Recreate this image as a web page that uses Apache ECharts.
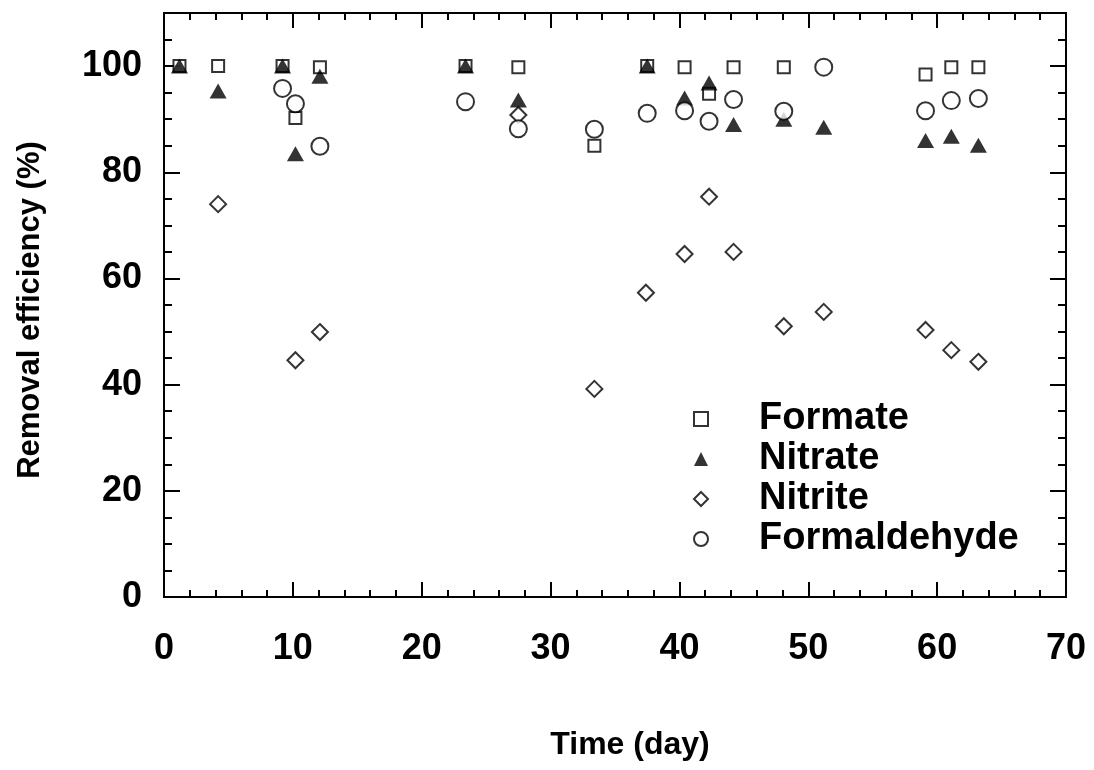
<!DOCTYPE html>
<html>
<head>
<meta charset="utf-8">
<script src="https://cdn.jsdelivr.net/npm/echarts@6/dist/echarts.min.js"></script>
<style>
html,body{margin:0;padding:0;background:#fff;}
#chart{width:1094px;height:770px;}
</style>
</head>
<body>
<div id="chart"></div>
<script>
// Data: [time (day), removal efficiency (%)]
const formate = [[1.2,100],[4.2,100],[9.2,100],[10.2,90.2],[12.1,99.8],[23.4,100],[27.5,99.8],[33.4,85],[37.5,100],[40.4,99.8],[42.3,94.8],[44.2,99.8],[48.1,99.8],[59.1,98.4],[61.1,99.8],[63.2,99.8]];
const nitrate = [[1.2,100],[4.2,95.3],[9.2,100],[10.2,83.5],[12.1,98.1],[23.4,100],[27.5,93.6],[37.5,100],[40.4,94],[42.3,96.8],[44.2,89],[48.1,90],[51.2,88.5],[59.1,86],[61.1,86.8],[63.2,85.1]];
const nitrite = [[4.2,74],[10.2,44.6],[12.1,49.9],[27.5,90.8],[33.4,39.2],[37.4,57.3],[40.4,64.6],[42.3,75.4],[44.2,65],[48.1,51],[51.2,53.7],[59.1,50.3],[61.1,46.5],[63.2,44.3]];
const formaldehyde = [[9.2,95.8],[10.2,92.9],[12.1,84.9],[23.4,93.3],[27.5,88.2],[33.4,88.1],[37.5,91.1],[40.4,91.6],[42.3,89.6],[44.2,93.7],[48.1,91.5],[51.2,99.8],[59.1,91.6],[61.1,93.5],[63.2,93.9]];
const seriesNames = ['Formate','Nitrate','Nitrite','Formaldehyde'];
const xTitle = 'Time (day)';
const yTitle = 'Removal efficiency (%)';

const FONT = '"Liberation Sans", Arial, sans-serif';
const lineStyle = {color:'#000', width:2};
const emptyStyle = {color:'#fff', borderColor:'#000', borderWidth:2};

function xAx(pos, interval, len, labels){
  return {
    type:'value', min:0, max:70, interval:interval, position:pos,
    axisLine:{show:true, onZero:false, lineStyle:lineStyle},
    axisTick:{show:true, inside:true, length:len, lineStyle:{color:'#000', width:2}},
    axisLabel: labels ? {show:true, margin:34, fontSize:36, fontWeight:'bold', fontFamily:FONT, color:'#000'} : {show:false},
    splitLine:{show:false},
    name: labels ? xTitle : '', nameLocation:'middle', nameGap:132,
    nameTextStyle:{fontSize:32, fontWeight:'bold', fontFamily:FONT, color:'#000', padding:[0,0,0,30]}
  };
}
function yAx(pos, interval, len, labels){
  return {
    type:'value', min:0, max:110, interval:interval, position:pos, offset:0,
    axisLine:{show:true, onZero:false, lineStyle:lineStyle},
    axisTick:{show:true, inside:true, length:len, lineStyle:{color:'#000', width:2}},
    axisLabel: labels ? {show:true, margin:22, fontSize:36, fontWeight:'bold', fontFamily:FONT, color:'#000',
      formatter: v => (v % 20 === 0 ? String(v) : '')} : {show:false},
    splitLine:{show:false},
    name: labels ? yTitle : '', nameLocation:'middle', nameGap:118, nameRotate:90,
    nameTextStyle:{fontSize:31, fontWeight:'bold', fontFamily:FONT, color:'#000', padding:[0,10,0,0]}
  };
}

const option = {
  animation:false,
  backgroundColor:'#fff',
  grid:{left:164, right:28, top:13, bottom:173, containLabel:false},
  xAxis:[xAx('bottom',10,15,true), xAx('bottom',2,7,false), xAx('top',10,15,false), xAx('top',2,7,false)],
  yAxis:[yAx('left',20,16,true), yAx('left',5,8,false), yAx('right',20,16,false), yAx('right',5,8,false)],
  legend:{
    orient:'vertical', left:688, top:395, itemWidth:14, itemHeight:14, itemGap:2,
    textStyle:{fontSize:38, fontWeight:'bold', fontFamily:FONT, color:'#000', padding:[0,0,0,46]},
    data:[
      {name:seriesNames[0], icon:'rect', itemStyle:{color:'#fff', borderColor:'#000', borderWidth:2}},
      {name:seriesNames[1], icon:'triangle', itemStyle:{color:'#000', borderWidth:0}},
      {name:seriesNames[2], icon:'diamond', itemStyle:{color:'#fff', borderColor:'#000', borderWidth:2}},
      {name:seriesNames[3], icon:'circle', itemStyle:{color:'#fff', borderColor:'#000', borderWidth:2}}
    ]
  },
  series:[
    {name:seriesNames[0], type:'scatter', data:formate, symbol:'rect', symbolSize:12, itemStyle:emptyStyle, z:2},
    {name:seriesNames[1], type:'scatter', data:nitrate, symbol:'triangle', symbolSize:[17,15], itemStyle:{color:'#000'}, z:3},
    {name:seriesNames[2], type:'scatter', data:nitrite, symbol:'diamond', symbolSize:16, itemStyle:emptyStyle, z:4},
    {name:seriesNames[3], type:'scatter', data:formaldehyde, symbol:'circle', symbolSize:17, itemStyle:emptyStyle, z:5}
  ]
};
option.series.forEach(s => { s.emphasis = {disabled:true}; });
const chart = echarts.init(document.getElementById('chart'));
chart.setOption(option);
</script>
</body>
</html>
